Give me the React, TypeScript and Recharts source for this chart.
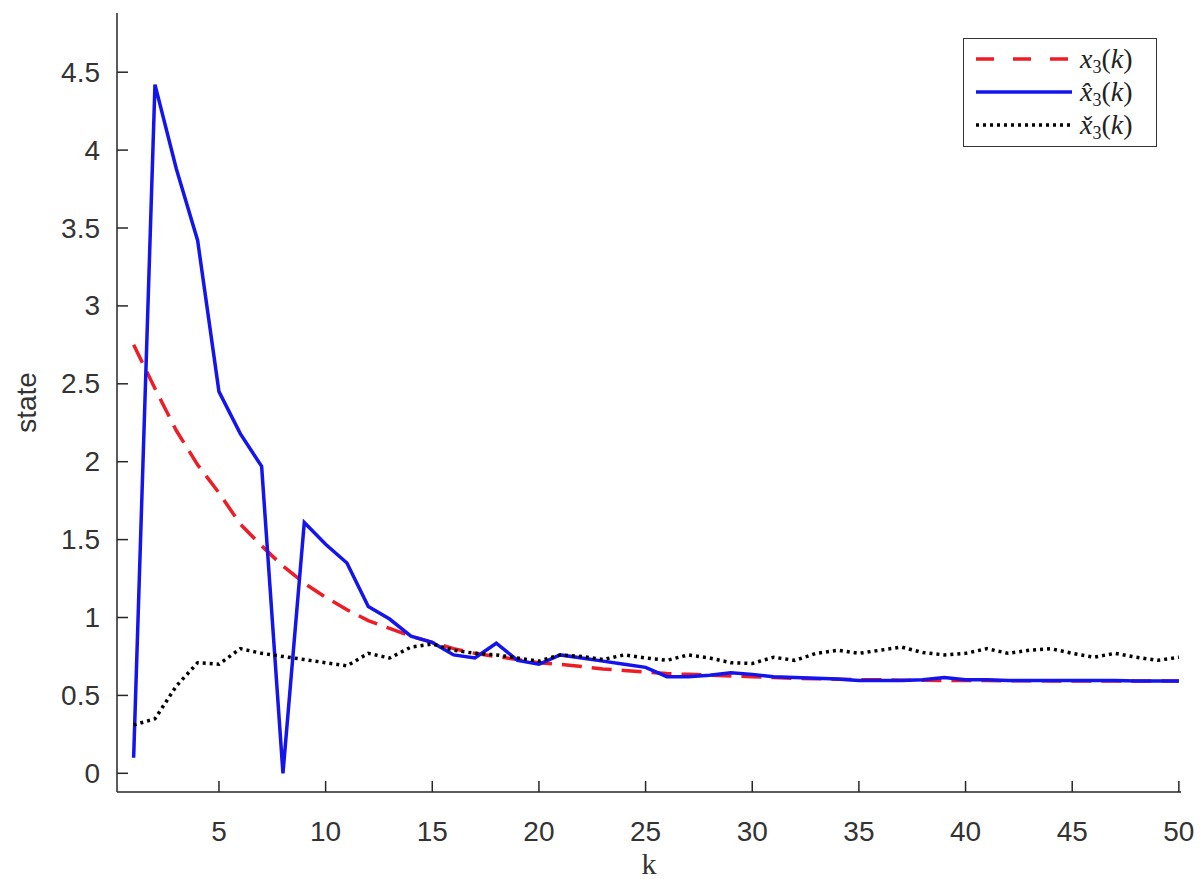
import React from 'react';
import { LineChart, Line, XAxis, YAxis, Legend } from 'recharts';

const kValues = Array.from({ length: 50 }, (_, i) => i + 1);

const x3 = [
  2.75, 2.47, 2.2, 1.98, 1.8, 1.6, 1.46, 1.33, 1.22, 1.13,
  1.05, 0.98, 0.93, 0.88, 0.84, 0.8, 0.77, 0.75, 0.73, 0.71,
  0.7, 0.685, 0.67, 0.66, 0.65, 0.64, 0.635, 0.63, 0.625, 0.62,
  0.615, 0.61, 0.607, 0.604, 0.6, 0.6, 0.598, 0.597, 0.596, 0.595,
  0.595, 0.594, 0.594, 0.593, 0.593, 0.593, 0.592, 0.592, 0.592, 0.592,
];

const x3hat = [
  0.1, 4.42, 3.88, 3.42, 2.45, 2.18, 1.97, 0.0, 1.61, 1.47,
  1.35, 1.07, 0.99, 0.88, 0.84, 0.76, 0.74, 0.835, 0.725, 0.7,
  0.76, 0.74, 0.72, 0.7, 0.68, 0.62, 0.62, 0.63, 0.645, 0.635,
  0.62, 0.615, 0.61, 0.605, 0.595, 0.595, 0.595, 0.6, 0.615, 0.6,
  0.6, 0.595, 0.595, 0.595, 0.595, 0.595, 0.595, 0.593, 0.593, 0.593,
];

const x3check = [
  0.31, 0.35, 0.56, 0.71, 0.7, 0.8, 0.77, 0.75, 0.73, 0.71,
  0.69, 0.77, 0.74, 0.81, 0.83, 0.79, 0.77, 0.76, 0.74, 0.72,
  0.76, 0.75, 0.73, 0.76, 0.74, 0.725, 0.76, 0.74, 0.71, 0.705,
  0.745, 0.725, 0.77, 0.79, 0.77, 0.79, 0.81, 0.775, 0.76, 0.77,
  0.8, 0.77, 0.79, 0.8, 0.77, 0.745, 0.77, 0.745, 0.725, 0.745,
];

const xTicks = [5, 10, 15, 20, 25, 30, 35, 40, 45, 50];
const yTicks = [0, 0.5, 1, 1.5, 2, 2.5, 3, 3.5, 4, 4.5];

const data = kValues.map((k, i) => ({ k, x3: x3[i], x3hat: x3hat[i], x3check: x3check[i] }));

const AXIS = '#262626';
const TICK_FONT = "'Liberation Sans', Arial, Helvetica, sans-serif";
const SERIF = "'Liberation Serif', 'Times New Roman', serif";
const RED = '#ee1c25';
const BLUE = '#1414ee';

const YTick = (props: any) => {
  const { x, y, payload } = props;
  return (
    <g>
      <line x1={x} y1={y} x2={x + 11} y2={y} stroke={AXIS} strokeWidth={1.5} />
      <text x={x - 17} y={y} textAnchor="end" dominantBaseline="central" fontSize={28} fontFamily={TICK_FONT} fill="#333">
        {payload.value}
      </text>
    </g>
  );
};

const XTick = (props: any) => {
  const { x, y, payload } = props;
  return (
    <g>
      <line x1={x} y1={y} x2={x} y2={y - 11} stroke={AXIS} strokeWidth={1.5} />
      <text x={x} y={y + 49} textAnchor="middle" fontSize={28} fontFamily={TICK_FONT} fill="#333">
        {payload.value}
      </text>
    </g>
  );
};

const legendRows = [
  { key: 'x3', color: RED, dash: '18 19', base: 'x' },
  { key: 'x3hat', color: BLUE, dash: undefined, base: 'x\u0302' },
  { key: 'x3check', color: '#000', dash: '3 4', base: 'x\u030C' },
];

const LegendBox = () => (
  <div
    style={{
      width: 194,
      height: 109,
      boxSizing: 'border-box',
      border: '1.5px solid #333',
      background: '#fff',
      position: 'relative',
    }}
  >
    {legendRows.map((r, i) => (
      <div key={r.key} style={{ position: 'absolute', left: 0, top: 4 + i * 33, height: 32, width: '100%' }}>
        <svg width={100} height={32} style={{ position: 'absolute', left: 10, top: 0 }}>
          <line x1={2} y1={16} x2={98} y2={16} stroke={r.color} strokeWidth={3.5} strokeDasharray={r.dash} />
        </svg>
        <span
          style={{
            position: 'absolute',
            left: 116,
            top: 0,
            lineHeight: '32px',
            fontFamily: SERIF,
            fontSize: 28,
            color: '#222',
            whiteSpace: 'nowrap',
          }}
        >
          <i>{r.base}</i>
          <span style={{ fontSize: 18, position: 'relative', top: 5 }}>3</span>
          <span>(</span>
          <i>k</i>
          <span>)</span>
        </span>
      </div>
    ))}
  </div>
);

export default function App() {
  return (
    <LineChart width={1195} height={871} data={data} margin={{ top: 5, right: 22, bottom: 0, left: 0 }}>
      <XAxis
        dataKey="k"
        type="number"
        domain={[0.22, 50.1]}
        ticks={xTicks}
        interval={0}
        allowDataOverflow
        height={87}
        tickSize={0}
        tickMargin={0}
        tickLine={false}
        axisLine={{ stroke: AXIS, strokeWidth: 1.5 }}
        tick={<XTick />}
        label={{
          content: (p: any) => {
            const vb = p.viewBox;
            return (
              <text x={vb.x + vb.width / 2} y={vb.y + 82} textAnchor="middle" fontSize={30} fontFamily={SERIF} fill="#333">
                k
              </text>
            );
          },
        }}
      />
      <YAxis
        type="number"
        domain={[-0.12, 4.88]}
        ticks={yTicks}
        interval={0}
        allowDataOverflow
        width={109}
        tickSize={0}
        tickMargin={0}
        tickLine={false}
        axisLine={{ stroke: AXIS, strokeWidth: 1.5 }}
        tick={<YTick />}
        label={{
          content: (p: any) => {
            const vb = p.viewBox;
            const cx = vb.x + 18;
            const cy = vb.y + vb.height / 2;
            return (
              <text
                x={cx}
                y={cy}
                transform={`rotate(-90 ${cx} ${cy})`}
                textAnchor="middle"
                dominantBaseline="central"
                fontSize={28}
                fontFamily={TICK_FONT}
                fill="#333"
              >
                state
              </text>
            );
          },
        }}
      />
      <Legend
        layout="vertical"
        align="center"
        verticalAlign="middle"
        content={<LegendBox />}
        wrapperStyle={{ position: 'absolute', left: 955, top: 30, width: 194, height: 109 }}
      />
      <Line type="linear" dataKey="x3" stroke={RED} strokeWidth={3.5} strokeDasharray="20 10" dot={false} isAnimationActive={false} />
      <Line type="linear" dataKey="x3hat" stroke={BLUE} strokeWidth={3.5} dot={false} isAnimationActive={false} />
      <Line type="linear" dataKey="x3check" stroke="#000" strokeWidth={3.5} strokeDasharray="3 4" dot={false} isAnimationActive={false} />
    </LineChart>
  );
}
